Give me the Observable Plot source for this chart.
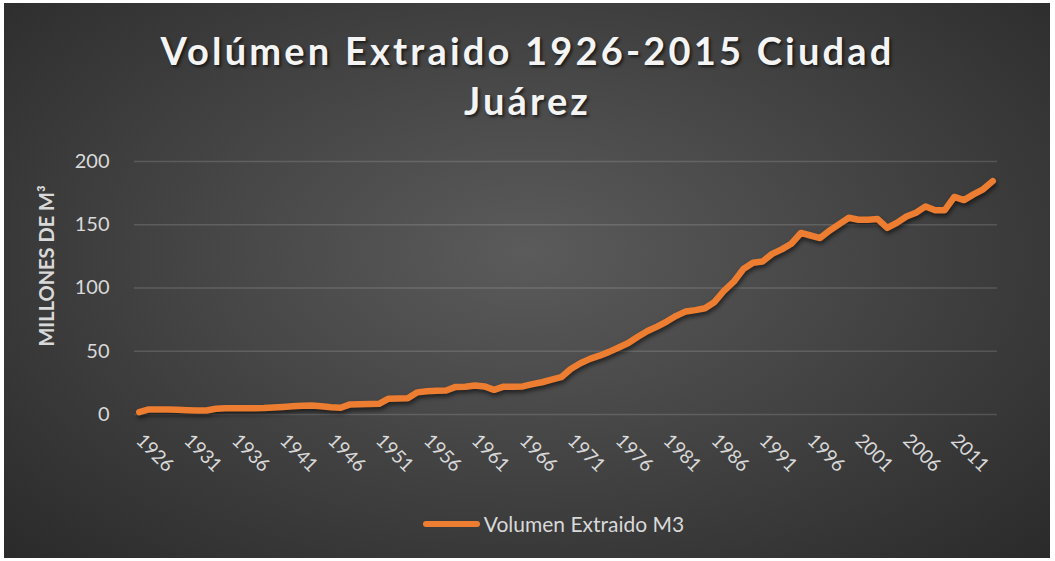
<!DOCTYPE html>
<html><head><meta charset="utf-8">
<script src="https://cdn.jsdelivr.net/npm/d3@7"></script>
<script src="https://cdn.jsdelivr.net/npm/@observablehq/plot@0.6"></script>
<style>
html,body{margin:0;padding:0;background:#fff;}
#wrap{position:relative;width:1055px;height:561px;overflow:hidden;background:#fff;font-family:Lato,"Open Sans",sans-serif;}
#bg{position:absolute;left:4px;top:3px;width:1046px;height:555px;background:radial-gradient(ellipse farthest-corner at 50% 45%, #5b5b5b 0%, #4a4a4a 35%, #2a2a2a 100%);}
#title{position:absolute;left:0;width:1055px;top:25px;text-align:center;color:#f4f4f4;font-weight:bold;font-size:38px;letter-spacing:3.2px;line-height:50px;text-shadow:2px 2px 3px rgba(0,0,0,.6);}
#chart{position:absolute;left:0;top:0;}
#chart g[aria-label="line"] path{filter:drop-shadow(1px 3px 2px rgba(0,0,0,.55));}
#legend{position:absolute;left:27px;width:1055px;top:511px;display:flex;justify-content:center;align-items:center;color:#d9d9d9;font-size:21px;}
#legend .sw{width:57px;height:6px;border-radius:3px;background:#ED7D31;margin-right:4px;margin-left:-2px;}
</style>
</head><body>
<div id="wrap">
  <div id="bg"></div>
  <div id="chart"></div>
  <div id="title">Volúmen Extraido 1926-2015 Ciudad<br>Juárez</div>
  <div id="legend"><div class="sw"></div><span id="legtext"></span></div>
</div>
<script>
const seriesName = "Volumen Extraido M3";
const yAxisLabel = "MILLONES DE M³";
const years = d3.range(1926, 2016);
const volume = [
  1.8, 4.0, 4.0, 3.9, 3.7, 3.4, 3.2, 3.2, 4.5, 5.0,
  5.0, 5.0, 5.0, 5.1, 5.5, 6.0, 6.5, 7.0, 7.1, 6.5,
  5.8, 5.3, 8.0, 8.2, 8.3, 8.4, 12.5, 12.6, 12.8, 17.5,
  18.4, 18.8, 19.0, 21.8, 22.0, 23.0, 22.2, 19.5, 22.0, 22.0,
  22.2, 24.0, 25.5, 27.5, 29.5, 36.0, 40.5, 44.0, 46.5, 49.5,
  53.0, 56.5, 61.5, 66.0, 69.5, 73.5, 78.0, 81.5, 82.5, 84.0,
  89.0, 98.0, 105.0, 115.0, 120.0, 121.0, 127.0, 130.5, 135.0, 143.5,
  141.5, 139.5, 145.5, 150.5, 155.5, 154.0, 154.0, 154.5, 147.5, 151.5,
  156.5, 159.5, 164.5, 161.5, 161.5, 172.0, 169.5, 174.0, 178.0, 184.5
];
const xTicks = [1926,1931,1936,1941,1946,1951,1956,1961,1966,1971,1976,1981,1986,1991,1996,2001,2006,2011];
const yTicks = [0,50,100,150,200];

const data = years.map((y,i)=>({year:y, value:volume[i]}));
document.getElementById("legtext").textContent = seriesName;

const chart = Plot.plot({
  width:1055, height:561,
  marginLeft:134, marginRight:58, marginTop:161, marginBottom:147,
  style:{background:"transparent", overflow:"visible", fontFamily:"Lato, 'Open Sans', sans-serif"},
  x:{type:"linear", domain:[1925.5, 2015.5]},
  y:{domain:[0,200]},
  marks:[
    Plot.gridY(yTicks, {stroke:"#ffffff", strokeOpacity:0.14, strokeWidth:1.4}),
    Plot.axisY(yTicks, {tickSize:0, tickPadding:25, fontSize:20, fill:"#d9d9d9", label:null}),
    Plot.axisX(xTicks, {tickSize:0, tickRotate:45, tickPadding:23, fontSize:19, fill:"#d9d9d9", label:null, tickFormat:d=>String(d)}),
    Plot.text([yAxisLabel], {frameAnchor:"left", textAnchor:"middle", text:d=>d, rotate:-90, dx:-87, dy:-22, fontSize:20, fontWeight:"bold", fill:"#d9d9d9"}),
    Plot.lineY(data, {x:"year", y:"value", stroke:"#ED7D31", strokeWidth:6.5, strokeLinejoin:"round", strokeLinecap:"round"})
  ]
});
document.getElementById("chart").appendChild(chart);
</script>
</body></html>
